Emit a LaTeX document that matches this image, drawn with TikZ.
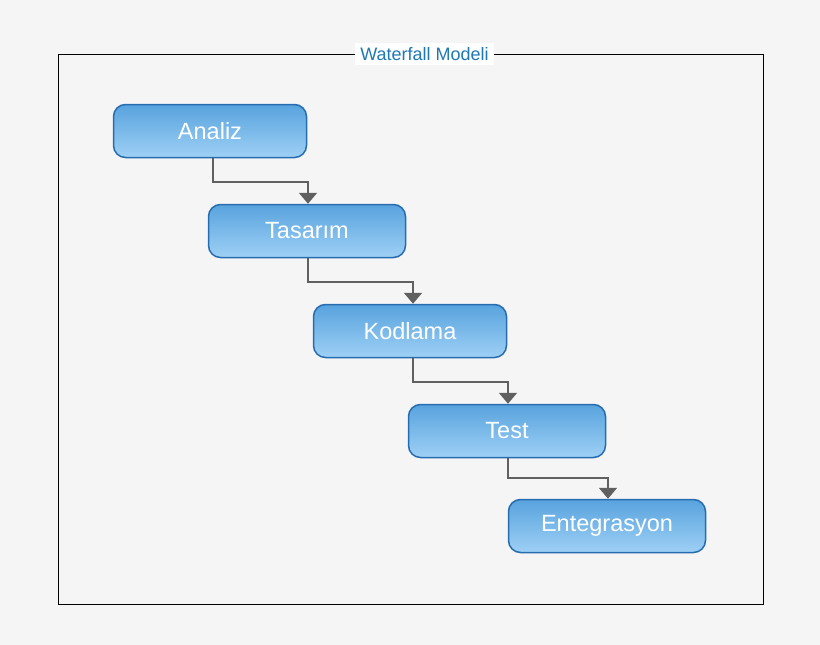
\documentclass[tikz,border=0pt]{standalone}
\usepackage{fontspec}
\setmainfont{Liberation Sans}
\usetikzlibrary{arrows.meta}
\definecolor{pagegray}{RGB}{245,245,245}
\definecolor{stagetop}{RGB}{88,163,222}
\definecolor{stagebottom}{RGB}{158,208,245}
\definecolor{stageline}{RGB}{38,108,174}
\definecolor{flowgray}{RGB}{96,96,96}
\definecolor{titleblue}{RGB}{30,120,180}

\begin{document}
\begin{tikzpicture}[x=1pt, y=-1pt,
  stage/.style={draw=stageline, line width=1.5pt, rounded corners=12pt,
    top color=stagetop, bottom color=stagebottom, text=white,
    minimum width=193pt, minimum height=53pt, inner sep=0pt,
    font=\fontsize{23.5}{27}\selectfont},
  flow/.style={draw=flowgray, line width=2pt,
    -{Triangle[width=18pt, length=11pt]}}]
% Page
\fill[pagegray] (0,0) rectangle (820,645);
\useasboundingbox (0,0) rectangle (820,645);

% Frame
\draw[line width=0.8pt] (58,54) rectangle (763,604);
\node[fill=white, text=titleblue, inner xsep=5pt, inner ysep=4pt,
  font=\fontsize{18}{22}\selectfont] (title) at (424.5,54) {Waterfall Modeli};

% Stages
\node[stage] (analiz) at (210,131) {Analiz};
\node[stage, minimum width=197pt] (tasarim) at (307,231) {Tasarım};
\node[stage] (kodlama) at (410,331) {Kodlama};
\node[stage, minimum width=197pt] (test) at (507,431) {Test};
\node[stage, minimum width=197pt] (entegrasyon) at (607,526) {Entegrasyon};

% Arrows
\draw[flow] ([xshift=3pt]analiz.south) -- ++(0,24) -| ([xshift=1pt]tasarim.north);
\draw[flow] ([xshift=1pt]tasarim.south) -- ++(0,24) -| ([xshift=3pt]kodlama.north);
\draw[flow] ([xshift=3pt]kodlama.south) -- ++(0,24) -| ([xshift=1pt]test.north);
\draw[flow] ([xshift=1pt]test.south) -- ++(0,20) -| ([xshift=1pt]entegrasyon.north);
\end{tikzpicture}
\end{document}
